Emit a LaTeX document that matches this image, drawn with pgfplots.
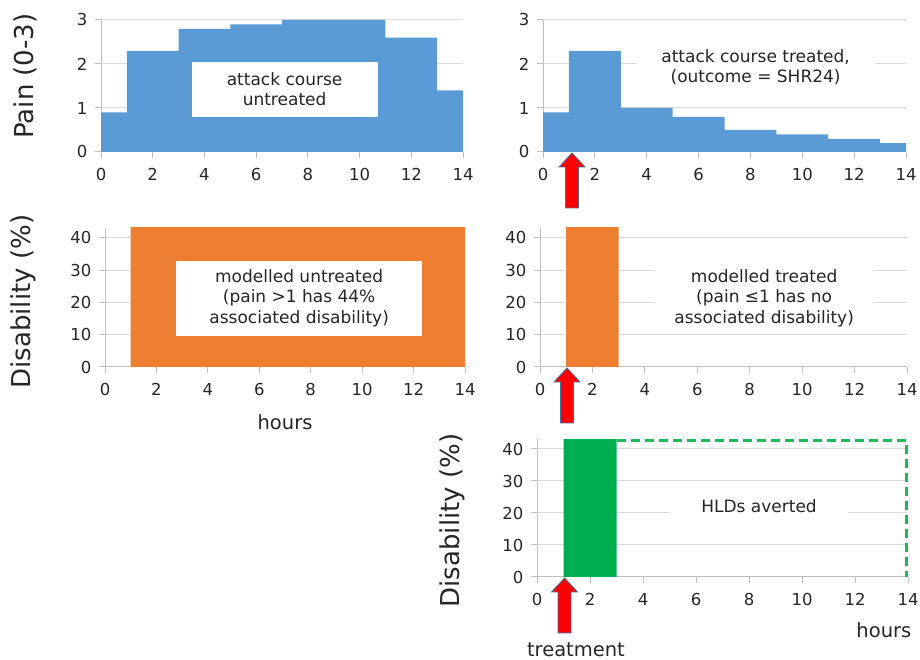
\documentclass[border=0pt]{standalone}
\usepackage{fontspec}
\setmainfont{DejaVu Sans}
\usepackage{pgfplots}
\pgfplotsset{compat=1.18}

\definecolor{painblue}{HTML}{5B9BD5}
\definecolor{disorange}{HTML}{ED7D31}
\definecolor{avgreen}{HTML}{00B050}
\definecolor{dashgreen}{HTML}{22B858}
\definecolor{gridgray}{HTML}{D9D9D9}
\definecolor{axisgray}{HTML}{BFBFBF}
\definecolor{arrowedge}{HTML}{41719C}

\newcommand{\annot}{\fontsize{17}{20.5}\selectfont}
\newcommand{\ylab}{\fontsize{26}{30}\selectfont}
\newcommand{\xlab}{\fontsize{19.5}{23}\selectfont}

% red "treatment" arrow, tip just under the x axis at hour #1
\newcommand{\treatarrow}[1]{%
  \draw[fill=red, draw=arrowedge, line width=0.8pt]
    (axis cs:#1,0) ++(0,-1pt) -- ++(13pt,-14pt) -- ++(-6.5pt,0) -- ++(0,-41pt)
    -- ++(-13pt,0) -- ++(0,41pt) -- ++(-6.5pt,0) -- cycle;}

\pgfplotsset{
  panel/.style={
    scale only axis,
    anchor=south west,
    axis lines*=left,
    xmin=0, xmax=14,
    xtick={0,2,...,14},
    ymin=0,
    ymajorgrids,
    grid style={gridgray, line width=1pt},
    axis line style={axisgray, line width=1pt, -},
    tick style={axisgray, line width=1pt},
    tick align=outside,
    major tick length=6pt,
    ticklabel style={font=\fontsize{16.5}{19}\selectfont, text=black!85},
    xticklabel style={yshift=-7pt},
    yticklabel style={xshift=-4pt},
    /pgf/number format/assume math mode=true,
    clip mode=individual,
  },
  painpanel/.style={panel, height=132pt, ymax=3, ytick={0,1,2,3}},
  dispanel/.style={panel, ymax=43, ytick={0,10,...,40}},
}

\begin{document}
\begin{tikzpicture}
\useasboundingbox (0,0) rectangle (920pt,660pt);

% pain, untreated
\begin{axis}[painpanel, at={(101pt,508pt)}, width=362pt]
  \addplot[const plot, fill=painblue, draw=none] coordinates {
    (0,0.9) (1,2.3) (3,2.8) (5,2.9) (7,3.0) (11,2.6) (13,1.4) (14,1.4)} \closedcycle;
  \node[fill=white, minimum width=186pt, minimum height=55pt, align=center,
        font=\annot, text=black!85] at (axis cs:7.1,1.425) {attack course\\untreated};
  \node[rotate=90, font=\ylab, text=black!85] at (axis description cs:-0.21,0.576) {Pain (0-3)};
\end{axis}

% pain, treated
\begin{axis}[painpanel, at={(543pt,508pt)}, width=363pt]
  \addplot[const plot, fill=painblue, draw=none] coordinates {
    (0,0.9) (1,2.3) (3,1.0) (5,0.8) (7,0.5) (9,0.4) (11,0.3) (13,0.2) (14,0.2)} \closedcycle;
  \node[fill=white, minimum width=238pt, minimum height=48pt, align=center,
        font=\annot, text=black!85] at (axis cs:8.2,1.93) {attack course treated,\\(outcome = SHR24)};
  \treatarrow{1.12}
\end{axis}

% disability, untreated
\begin{axis}[dispanel, at={(105pt,293pt)}, width=360pt, height=139pt]
  \addplot[const plot, fill=disorange, draw=none] coordinates {(1,44) (14,44)} \closedcycle;
  \node[fill=white, minimum width=246pt, minimum height=75pt, align=center,
        font=\annot, text=black!85] at (axis cs:7.55,21.3)
        {modelled untreated\\(pain >1 has 44\%\\associated disability)};
  \node[rotate=90, font=\ylab, text=black!85] at (axis description cs:-0.228,0.47) {Disability (\%)};
  \node[font=\xlab, text=black!85] at (axis description cs:0.5,-0.396) {hours};
\end{axis}

% disability, treated
\begin{axis}[dispanel, at={(540pt,293pt)}, width=367pt, height=139pt]
  \addplot[const plot, fill=disorange, draw=none] coordinates {(1,44) (3,44)} \closedcycle;
  \node[fill=white, minimum width=218pt, minimum height=70pt, align=center,
        font=\annot, text=black!85] at (axis cs:8.55,21.4)
        {modelled treated\\(pain ≤1 has no\\associated disability)};
  \treatarrow{1.03}
\end{axis}

% disability averted
\begin{axis}[dispanel, at={(537pt,83pt)}, width=371pt, height=137.6pt]
  \addplot[const plot, fill=avgreen, draw=none] coordinates {(1,44) (3,44)} \closedcycle;
  \addplot[dashgreen, line width=2.5pt, dash pattern=on 9pt off 5pt] coordinates {
    (3,42.6) (13.95,42.6) (13.95,0)};
  \node[fill=white, minimum width=178pt, minimum height=40pt, align=center,
        font=\annot, text=black!85] at (axis cs:8.38,22.2) {HLDs averted};
  \treatarrow{1.04}
  \node[rotate=90, font=\ylab, text=black!85] at (axis description cs:-0.229,0.41) {Disability (\%)};
  \node[font=\xlab, text=black!85] at (axis description cs:0.935,-0.384) {hours};
  \node[font=\xlab, text=black!85] at (axis description cs:0.105,-0.529) {treatment};
\end{axis}
\end{tikzpicture}
\end{document}
